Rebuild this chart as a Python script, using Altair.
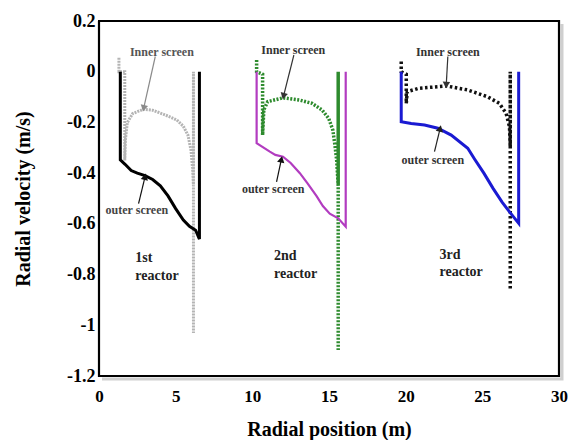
import math
import altair as alt
import pandas as pd

# ---------------- data ----------------
# 1st reactor
R1_OUT_X = [1.39, 1.39, 1.7, 2.1, 2.5, 3.0, 3.5, 4.0, 4.5, 5.0, 5.5, 5.9, 6.3, 6.55, 6.55]
R1_OUT_Y = [0.0, -0.348, -0.365, -0.39, -0.40, -0.41, -0.425, -0.45, -0.49, -0.54, -0.585, -0.61, -0.625, -0.66, 0.0]
R1_IN_X = [1.3, 1.3, 1.68, 1.68, 1.72, 1.85, 2.2, 2.9, 3.5, 4.0, 4.5, 5.07, 5.5, 5.8, 6.0, 6.1, 6.16, 6.16, 6.16]
R1_IN_Y = [0.055, 0.0, 0.0, -0.35, -0.27, -0.2, -0.165, -0.148, -0.152, -0.163, -0.175, -0.19, -0.215, -0.25, -0.31, -0.38, -0.45, 0.0, -1.03]

# 2nd reactor
R2_OUT_X = [10.28, 10.28, 11.14, 11.5, 12.0, 12.5, 13.1, 13.6, 14.18, 14.6, 15.05, 15.6, 16.09, 16.09]
R2_OUT_Y = [0.0, -0.282, -0.315, -0.328, -0.335, -0.36, -0.40, -0.44, -0.49, -0.53, -0.56, -0.578, -0.611, 0.0]
R2_IN_X = [10.28, 10.28, 10.67, 10.67, 10.75, 11.0, 12.0, 13.1, 13.9, 14.55, 14.98, 15.25, 15.4, 15.5, 15.6, 15.6, 15.6]
R2_IN_Y = [0.046, 0.0, -0.01, -0.25, -0.15, -0.118, -0.103, -0.112, -0.125, -0.151, -0.184, -0.23, -0.296, -0.35, -0.45, 0.0, -1.097]

# 3rd reactor
R3_OUT_X = [19.71, 19.71, 20.36, 21.23, 22.1, 22.97, 24.05, 24.5, 25.1, 25.7, 26.3, 26.8, 27.37, 27.37]
R3_OUT_Y = [0.0, -0.197, -0.204, -0.21, -0.223, -0.25, -0.302, -0.345, -0.40, -0.46, -0.515, -0.555, -0.598, 0.0]
R3_IN_X = [19.71, 19.71, 20.04, 20.04, 20.1, 20.8, 22.64, 24.05, 25.35, 26.11, 26.55, 26.77, 26.82, 26.82, 26.82]
R3_IN_Y = [0.04, 0.0, -0.01, -0.125, -0.079, -0.066, -0.056, -0.072, -0.099, -0.125, -0.164, -0.217, -0.3, 0.0, -0.86]

# annotation texts
LBL_TEXT = ["Inner screen", "Inner screen", "Inner screen", "outer screen", "outer screen", "outer screen"]
LBL_X = [4.1, 12.67, 22.75, 2.47, 11.36, 21.77]
LBL_Y = [0.078, 0.086, 0.079, -0.545, -0.464, -0.348]
LBL_COLOR = ["#555555", "#333333", "#333333", "#444444", "#333333", "#333333"]

RX_TEXT = ["1st", "reactor", "2nd", "reactor", "3rd", "reactor"]
RX_X = [2.37, 2.37, 11.41, 11.41, 22.21, 22.21]
RX_Y = [-0.735, -0.806, -0.727, -0.798, -0.723, -0.789]

# arrows (start -> tip)
AR_X1 = [3.67, 2.58, 12.71, 11.58, 22.75, 21.88]
AR_Y1 = [0.06, -0.52, 0.066, -0.434, 0.06, -0.315]
AR_X2 = [2.93, 2.99, 12.05, 11.88, 22.65, 22.23]
AR_Y2 = [-0.14, -0.418, -0.092, -0.35, -0.048, -0.228]
AR_COLOR = ["#8a8a8a", "#111111", "#333333", "#111111", "#333333", "#222222"]

X_DOMAIN = [0, 30]
Y_DOMAIN = [-1.2, 0.2]
X_TICKS = [0, 5, 10, 15, 20, 25, 30]
Y_TICKS = [-1.2, -1.0, -0.8, -0.6, -0.4, -0.2, 0.0, 0.2]

# ---------------- chart ----------------
W, H = 460, 355
FONT = "Liberation Serif"
xscale = alt.Scale(domain=X_DOMAIN, nice=False, zero=False)
yscale = alt.Scale(domain=Y_DOMAIN, nice=False, zero=False)

xaxis = alt.Axis(values=X_TICKS, title="Radial position (m)", grid=False,
                 domain=False, ticks=False,
                 labelFont=FONT, labelFontSize=17, labelFontWeight="bold", labelColor="black",
                 labelPadding=12, labelFlush=False, labelOverlap=False,
                 titleFont=FONT, titleFontSize=20, titleFontWeight="bold", titleColor="black",
                 titlePadding=15)
yaxis = alt.Axis(values=Y_TICKS, title="Radial velocity (m/s)", grid=False,
                 domain=False, ticks=False,
                 labelExpr="replace(format(datum.value, '~g'), '\u2212', '-')",
                 labelFont=FONT, labelFontSize=18, labelFontWeight="bold", labelColor="black",
                 labelPadding=4, labelFlush=False, labelOverlap=False,
                 titleFont=FONT, titleFontSize=20, titleFontWeight="bold", titleColor="black",
                 titlePadding=33)


def X(field="x"):
    return alt.X(f"{field}:Q", scale=xscale, axis=xaxis)


def Y(field="y"):
    return alt.Y(f"{field}:Q", scale=yscale, axis=yaxis)


def line_layer(xs, ys, color, width, dash=None, clip=True, **extra):
    df = pd.DataFrame({"x": xs, "y": ys, "o": list(range(len(xs)))})
    kw = dict(color=color, strokeWidth=width, clip=clip, strokeJoin="miter", **extra)
    if dash:
        kw["strokeDash"] = dash
    return alt.Chart(df).mark_line(**kw).encode(x=X(), y=Y(), order="o:Q")


# plot box as a closed polyline through the corners of the scale extents,
# with a faint grey drop shadow on the right and bottom
BOX_X = [X_DOMAIN[0], X_DOMAIN[1], X_DOMAIN[1], X_DOMAIN[0], X_DOMAIN[0]]
BOX_Y = [Y_DOMAIN[1], Y_DOMAIN[1], Y_DOMAIN[0], Y_DOMAIN[0], Y_DOMAIN[1]]
SHADOW_X = [X_DOMAIN[1], X_DOMAIN[1], X_DOMAIN[0]]
SHADOW_Y = [Y_DOMAIN[1], Y_DOMAIN[0], Y_DOMAIN[0]]

frame_layers = [
    line_layer(SHADOW_X, SHADOW_Y, "#cfcfcf", 3, clip=False, xOffset=3, yOffset=3),
    line_layer(BOX_X, BOX_Y, "#000000", 2.2, clip=False),
]

layers = [
    line_layer(R1_IN_X, R1_IN_Y, "#b4b4b4", 3, [2, 1]),
    line_layer(R1_OUT_X, R1_OUT_Y, "#000000", 3),
    line_layer(R2_IN_X, R2_IN_Y, "#2e8b2e", 3.5, [2, 1.5]),
    line_layer(R2_OUT_X, R2_OUT_Y, "#b23cc0", 2.2),
    line_layer(R3_IN_X, R3_IN_Y, "#111111", 3.5, [2.5, 2.5]),
    line_layer(R3_OUT_X, R3_OUT_Y, "#1a1ad2", 3),
]

# arrows
sx, sy = W / 30.0, H / 1.4
angles = []
for x1, y1, x2, y2 in zip(AR_X1, AR_Y1, AR_X2, AR_Y2):
    dx = (x2 - x1) * sx
    dy = -(y2 - y1) * sy
    angles.append(math.degrees(math.atan2(dx, -dy)) % 360)
ar_df = pd.DataFrame({"x": AR_X1, "y": AR_Y1, "x2": AR_X2, "y2": AR_Y2, "c": AR_COLOR, "a": angles})
arrow_lines = alt.Chart(ar_df).mark_rule(strokeWidth=1.2).encode(
    x=X(), y=Y(), x2="x2:Q", y2="y2:Q", color=alt.Color("c:N", scale=None))
arrow_heads = alt.Chart(ar_df).mark_point(shape="triangle", filled=True, size=55, opacity=1).encode(
    x=X("x2"), y=Y("y2"), color=alt.Color("c:N", scale=None), angle=alt.Angle("a:Q", scale=None))

lbl_df = pd.DataFrame({"x": LBL_X, "y": LBL_Y, "t": LBL_TEXT, "c": LBL_COLOR})
labels = alt.Chart(lbl_df).mark_text(font=FONT, fontSize=12, fontWeight="bold", align="center",
                                      baseline="middle").encode(
    x=X(), y=Y(), text="t:N", color=alt.Color("c:N", scale=None))

rx_df = pd.DataFrame({"x": RX_X, "y": RX_Y, "t": RX_TEXT})
rx_labels = alt.Chart(rx_df).mark_text(font=FONT, fontSize=14, fontWeight="bold", align="left",
                                        baseline="middle", color="#222222").encode(
    x=X(), y=Y(), text="t:N")

chart = alt.layer(*frame_layers, *layers, arrow_lines, arrow_heads, labels, rx_labels).properties(
    width=W, height=H,
    autosize=alt.AutoSizeParams(type="none"),
    padding={"left": 91, "top": 13, "right": 9, "bottom": 64},
).configure(background="white").configure_view(stroke="black", strokeWidth=2)

chart.save("out.html", embed_options={"renderer": "svg", "actions": False})
